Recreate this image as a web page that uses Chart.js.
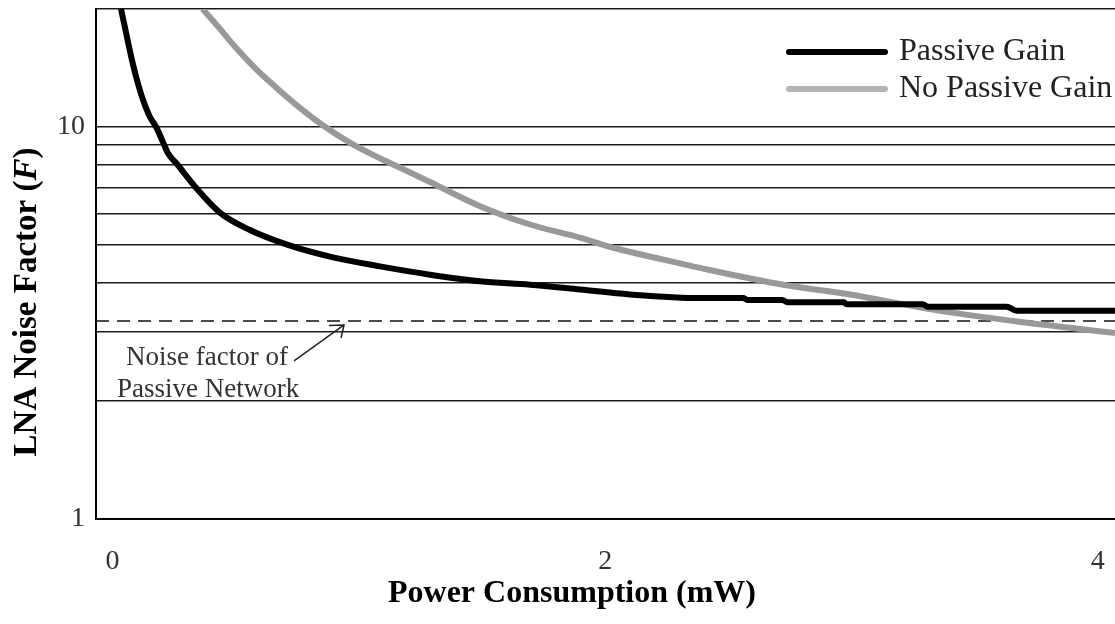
<!DOCTYPE html>
<html>
<head>
<meta charset="utf-8">
<script src="https://cdn.jsdelivr.net/npm/chart.js@4.4.0/dist/chart.umd.min.js"></script>
<style>
  html, body { margin: 0; padding: 0; background: #fff; }
</style>
</head>
<body>
<canvas id="nf" width="1115" height="624"></canvas>
<script>
// LNA noise factor vs. power consumption
const powerPassive = [0.0345, 0.055, 0.075, 0.095, 0.123, 0.150, 0.177, 0.210, 0.224, 0.265, 0.339, 0.437, 0.558,
  0.709, 0.895, 1.086, 1.289, 1.492, 1.695, 1.898, 2.10, 2.39, 2.56, 2.58, 2.72, 2.74, 2.97, 2.98, 3.29, 3.31,
  3.63, 3.67, 4.07]
const nfPassive = [20, 17.4, 15.2, 13.5, 11.77, 10.67, 10.0, 9.0, 8.6, 8.0, 7.0, 6.04, 5.46,
  5.01, 4.65, 4.41, 4.20, 4.04, 3.96, 3.85, 3.74, 3.66, 3.66, 3.62, 3.62, 3.57, 3.57, 3.53, 3.53, 3.48,
  3.48, 3.40, 3.40]

const powerNoPassive = [0.366, 0.433, 0.502, 0.583, 0.672, 0.761, 0.851, 0.965, 1.086, 1.168, 1.289, 1.492,
  1.695, 1.898, 2.033, 2.236, 2.386, 2.723, 2.995, 3.33, 3.673, 4.07]
const nfNoPassive = [20, 17.9, 15.9, 14.05, 12.49, 11.19, 10.13, 9.11, 8.32, 7.87, 7.24, 6.28,
  5.64, 5.22, 4.92, 4.59, 4.37, 3.96, 3.74, 3.42, 3.19, 2.98]

// noise factor of the passive network alone (dashed line)
const passiveNetworkNF = 3.2

const xRange = [-0.067, 4.07]
const xTicks = [0, 2, 4]
const yTicks = [1, 2, 3, 4, 5, 6, 7, 8, 9, 10, 20]
const yLabelled = [1, 10]

const serif = "'Liberation Serif', 'Times New Roman', serif"

const toPoints = (xs, ys) => xs.map((x, i) => ({ x: x, y: ys[i] }))

// axis titles, drawn by hand so the (F) can be italic
const axisTitles = {
  id: 'axisTitles',
  afterDraw(chart) {
    const ctx = chart.ctx
    ctx.save()
    ctx.fillStyle = '#000'
    ctx.font = `bold 32px ${serif}`
    ctx.textAlign = 'center'
    ctx.textBaseline = 'alphabetic'
    ctx.fillText('Power Consumption (mW)', 572, 602)

    ctx.translate(36, 302)
    ctx.rotate(-Math.PI / 2)
    const parts = [['LNA Noise Factor (', 'bold'], ['F', 'italic bold'], [')', 'bold']]
    let total = 0
    parts.forEach(p => {
      ctx.font = `${p[1]} 33px ${serif}`
      p.w = ctx.measureText(p[0]).width
      total += p.w
    })
    ctx.textAlign = 'left'
    let x = -total / 2
    parts.forEach(p => {
      ctx.font = `${p[1]} 33px ${serif}`
      ctx.fillText(p[0], x, 0)
      x += p.w
    })
    ctx.restore()
  }
}

// legend in the top right corner
const cornerLegend = {
  id: 'cornerLegend',
  afterDraw(chart) {
    const ctx = chart.ctx
    const items = chart.data.datasets.filter(d => d.inLegend)
    ctx.save()
    items.forEach((d, i) => {
      const y = 52 + i * 37
      ctx.strokeStyle = d.legendColor || d.borderColor
      ctx.lineWidth = 6
      ctx.lineCap = 'round'
      ctx.beginPath()
      ctx.moveTo(789, y)
      ctx.lineTo(885, y)
      ctx.stroke()
      ctx.fillStyle = '#222'
      ctx.font = `32px ${serif}`
      ctx.textBaseline = 'alphabetic'
      ctx.fillText(d.label, 899, y + 8)
    })
    ctx.restore()
  }
}

// label + arrow pointing at the dashed line
const passiveNote = {
  id: 'passiveNote',
  afterDraw(chart) {
    const { ctx, scales: { x, y } } = chart
    const tipX = x.getPixelForValue(0.94)
    const tipY = y.getPixelForValue(passiveNetworkNF) + 4
    ctx.save()
    ctx.strokeStyle = '#222'
    ctx.lineWidth = 1.5
    ctx.beginPath()
    ctx.moveTo(tipX - 50, tipY + 36)
    ctx.lineTo(tipX, tipY)
    ctx.stroke()
    ctx.beginPath()
    ctx.moveTo(tipX - 15, tipY + 0.5)
    ctx.lineTo(tipX, tipY)
    ctx.lineTo(tipX - 3, tipY + 13)
    ctx.stroke()
    ctx.fillStyle = '#333'
    ctx.font = `27px ${serif}`
    ctx.textBaseline = 'alphabetic'
    ctx.fillText('Noise factor of', 126, 365)
    ctx.fillText('Passive Network', 117, 397)
    ctx.restore()
  }
}

new Chart(document.getElementById('nf').getContext('2d'), {
  type: 'line',
  data: {
    datasets: [
      {
        label: 'Passive Gain',
        inLegend: true,
        data: toPoints(powerPassive, nfPassive),
        borderColor: '#000',
        borderWidth: 6,
        pointRadius: 0,
        cubicInterpolationMode: 'monotone',
        borderJoinStyle: 'round'
      },
      {
        label: 'No Passive Gain',
        inLegend: true,
        legendColor: '#b4b4b4',
        data: toPoints(powerNoPassive, nfNoPassive),
        borderColor: '#999',
        borderWidth: 6,
        pointRadius: 0,
        cubicInterpolationMode: 'monotone',
        borderJoinStyle: 'round'
      },
      {
        label: 'Passive network',
        data: toPoints(xRange, [passiveNetworkNF, passiveNetworkNF]),
        borderColor: '#111',
        borderWidth: 1.5,
        borderDash: [13, 8],
        pointRadius: 0
      }
    ]
  },
  options: {
    responsive: false,
    animation: false,
    events: [],
    layout: { padding: { top: 9, left: 0, right: 0, bottom: 0 } },
    plugins: {
      legend: { display: false },
      title: { display: false },
      tooltip: { enabled: false }
    },
    scales: {
      x: {
        type: 'linear',
        min: xRange[0],
        max: xRange[1],
        afterBuildTicks: s => { s.ticks = xTicks.map(v => ({ value: v })) },
        afterFit: s => { s.height = 105; s.paddingLeft = 0; s.paddingRight = 0 },
        grid: { display: false, drawTicks: false },
        border: { display: true, color: '#000', width: 2 },
        ticks: {
          color: '#333',
          padding: 26,
          maxRotation: 0,
          font: { family: serif, size: 28 },
          callback: v => String(v)
        }
      },
      y: {
        type: 'logarithmic',
        min: 1,
        max: 20,
        z: 1,
        afterBuildTicks: s => { s.ticks = yTicks.map(v => ({ value: v })) },
        afterFit: s => { s.width = 96; s.paddingTop = 0; s.paddingBottom = 0 },
        grid: { color: '#1a1a1a', lineWidth: 1.6, drawTicks: false },
        border: { display: true, color: '#000', width: 2 },
        ticks: {
          color: '#333',
          padding: 11,
          font: { family: serif, size: 28 },
          callback: v => (yLabelled.includes(v) ? String(v) : '')
        }
      }
    }
  },
  plugins: [axisTitles, cornerLegend, passiveNote]
})
</script>
</body>
</html>
